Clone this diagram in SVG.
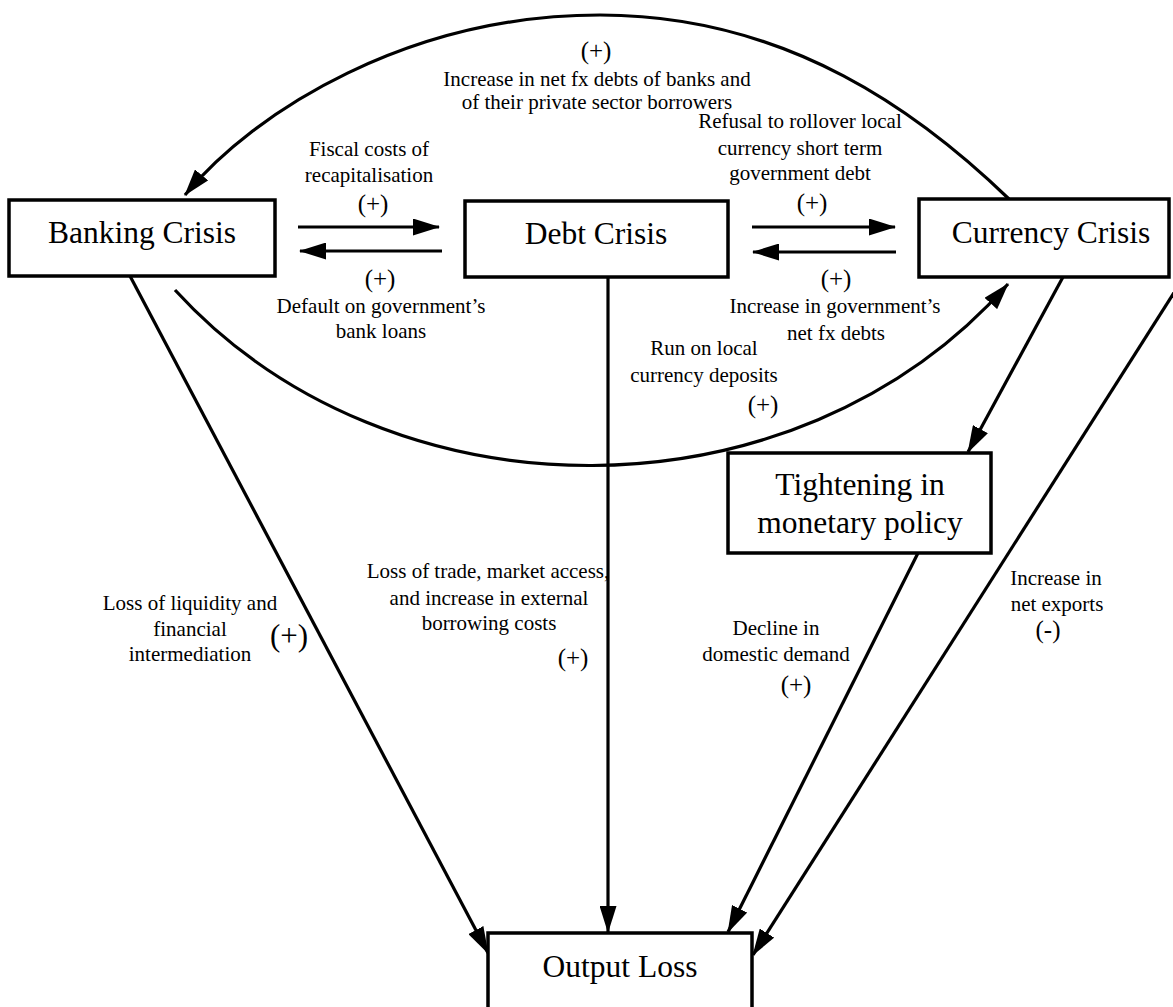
<svg xmlns="http://www.w3.org/2000/svg" width="1173" height="1007" viewBox="0 0 1173 1007">
<style>
.box{fill:#fff;stroke:#000;stroke-width:3.5}
.node{font-family:"Liberation Serif","Times New Roman",serif;font-size:31.5px;fill:#000;text-anchor:middle}
.lbl{font-family:"Liberation Serif","Times New Roman",serif;font-size:21px;fill:#000;text-anchor:middle}
.sgn{font-family:"Liberation Serif","Times New Roman",serif;font-size:25px;fill:#000;text-anchor:middle}
.big{font-size:31px}
.ln{fill:none;stroke:#000;stroke-width:3.2}
</style>
<defs>
<marker id="ah" markerUnits="userSpaceOnUse" markerWidth="27" markerHeight="17" viewBox="0 0 27 17" refX="26" refY="8.5" orient="auto">
<path d="M0,0 L27,8.5 L0,17 z" fill="#000"/>
</marker>
</defs>
<rect width="1173" height="1007" fill="#fff"/>

<g id="connectors">
<path class="ln" d="M1009,199 C923,116 790,15 600,15 C410,15 255,110 185,195" marker-end="url(#ah)"/>
<path class="ln" d="M175,290 C390,525 795,525 1008,284" marker-end="url(#ah)"/>
<path class="ln" d="M298,227 L439,227" marker-end="url(#ah)"/>
<path class="ln" d="M442,251 L300,251" marker-end="url(#ah)"/>
<path class="ln" d="M752,227 L895,227" marker-end="url(#ah)"/>
<path class="ln" d="M896,252 L753,252" marker-end="url(#ah)"/>
<path class="ln" d="M130,276 L488,953" marker-end="url(#ah)"/>
<path class="ln" d="M608,277 L608,932" marker-end="url(#ah)"/>
<path class="ln" d="M918,553 L728,932" marker-end="url(#ah)"/>
<path class="ln" d="M1184,277 L753,955" marker-end="url(#ah)"/>
<path class="ln" d="M1063,277 L968,452" marker-end="url(#ah)"/>
</g>

<g id="labels">
<text class="sgn" x="596" y="59">(+)</text>
<text class="lbl" x="597" y="86">Increase in net fx debts of banks and</text>
<text class="lbl" x="597" y="109">of their private sector borrowers</text>

<text class="lbl" x="369" y="156">Fiscal costs of</text>
<text class="lbl" x="369" y="182">recapitalisation</text>
<text class="sgn" x="373" y="212">(+)</text>
<text class="sgn" x="380" y="287">(+)</text>
<text class="lbl" x="381" y="313">Default on government’s</text>
<text class="lbl" x="381" y="338">bank loans</text>

<text class="lbl" x="800" y="128">Refusal to rollover local</text>
<text class="lbl" x="800" y="155">currency short term</text>
<text class="lbl" x="800" y="180">government debt</text>
<text class="sgn" x="812" y="211">(+)</text>
<text class="sgn" x="836" y="287">(+)</text>
<text class="lbl" x="835" y="313">Increase in government’s</text>
<text class="lbl" x="836" y="340">net fx debts</text>

<text class="lbl" x="704" y="355">Run on local</text>
<text class="lbl" x="704" y="382">currency deposits</text>
<text class="sgn" x="763" y="413">(+)</text>

<text class="lbl" x="190" y="610">Loss of liquidity and</text>
<text class="lbl" x="190" y="636">financial</text>
<text class="lbl" x="190" y="661">intermediation</text>
<text class="sgn big" x="289" y="646">(+)</text>

<text class="lbl" x="488" y="578">Loss of trade, market access,</text>
<text class="lbl" x="489" y="605">and increase in external</text>
<text class="lbl" x="489" y="630">borrowing costs</text>
<text class="sgn" x="573" y="666">(+)</text>

<text class="lbl" x="776" y="635">Decline in</text>
<text class="lbl" x="776" y="661">domestic demand</text>
<text class="sgn" x="796" y="693">(+)</text>

<text class="lbl" x="1056" y="585">Increase in</text>
<text class="lbl" x="1057" y="611">net exports</text>
<text class="sgn" x="1048" y="638">(-)</text>
</g>

<g id="banking">
<rect class="box" x="9" y="200" width="266" height="76"/>
<text class="node" x="142" y="243">Banking Crisis</text>
</g>
<g id="debt">
<rect class="box" x="465" y="201" width="263" height="76"/>
<text class="node" x="596" y="244">Debt Crisis</text>
</g>
<g id="currency">
<rect class="box" x="919" y="199" width="250" height="78"/>
<text class="node" x="1051" y="243">Currency Crisis</text>
</g>
<g id="tightening">
<rect class="box" x="728" y="453" width="263" height="100"/>
<text class="node" x="860" y="495">Tightening in</text>
<text class="node" x="860" y="533">monetary policy</text>
</g>
<g id="output">
<rect class="box" x="488" y="933" width="264" height="90"/>
<text class="node" x="620" y="977">Output Loss</text>
</g>
</svg>
